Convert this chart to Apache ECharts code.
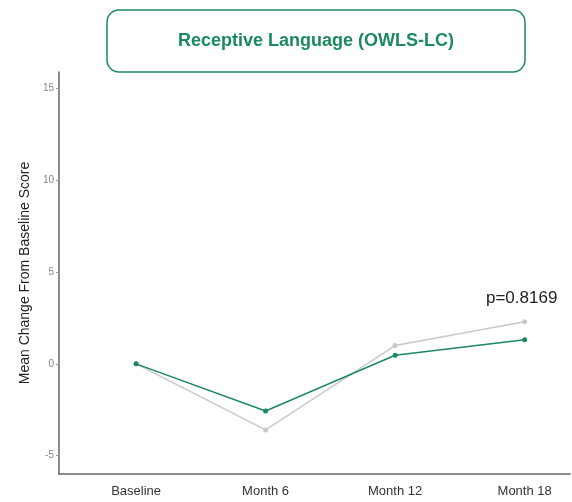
<!DOCTYPE html>
<html>
<head>
<meta charset="utf-8">
<script src="https://cdn.jsdelivr.net/npm/echarts@6/dist/echarts.min.js"></script>
<style>
  html, body { margin: 0; padding: 0; background: #fff; }
  #chart { width: 572px; height: 502px; }
</style>
</head>
<body>
<div id="chart"></div>
<script>
var categories = ["Baseline", "Month 6", "Month 12", "Month 18"];
var greenValues = [0, -2.57, 0.47, 1.31];
var grayValues = [0, -3.6, 1.0, 2.3];
var yTicks = [-5, 0, 5, 10, 15];
var pText = "p=0.8169";

var green = "#1b8a5c";
var gray = "#c9c9c9";
var font = "Liberation Sans, Arial, sans-serif";

function toPoints(values) {
  return values.map(function (v, i) { return [i, v]; });
}

var chart = echarts.init(document.getElementById("chart"));
chart.setOption({
  animation: false,
  textStyle: { fontFamily: font },
  title: {
    text: "Receptive Language (OWLS-LC)",
    left: 107,
    top: 10,
    padding: [22, 71, 22, 71],
    borderColor: green,
    borderWidth: 1.5,
    borderRadius: 12,
    textStyle: { color: green, fontSize: 18, fontWeight: "bold", fontFamily: font }
  },
  grid: { left: 59, right: 2, top: 72, bottom: 28 },
  xAxis: {
    type: "value",
    min: -0.595,
    max: 3.35,
    splitLine: { show: false },
    axisLine: { show: true, onZero: false, lineStyle: { color: "#666", width: 1.5 } },
    axisTick: { show: false },
    axisLabel: {
      customValues: [0, 1, 2, 3],
      formatter: function (v) { return categories[Math.round(v)]; },
      color: "#333",
      fontSize: 13,
      margin: 11
    }
  },
  yAxis: {
    type: "value",
    min: -6,
    max: 15.9,
    name: "Mean Change From Baseline Score",
    nameLocation: "middle",
    nameGap: 27,
    nameTextStyle: { color: "#222", fontSize: 14 },
    splitLine: { show: false },
    axisLine: { show: true, onZero: false, lineStyle: { color: "#666", width: 1.5 } },
    axisTick: { show: true, customValues: yTicks, length: 3, lineStyle: { color: "#999" } },
    axisLabel: { customValues: yTicks, color: "#888", fontSize: 10, margin: 5 }
  },
  series: [
    {
      type: "line",
      data: toPoints(grayValues).map(function (p, i) {
        if (i === grayValues.length - 1) {
          return {
            value: p,
            label: {
              show: true,
              position: "top",
              distance: 12,
              offset: [-3, 0],
              formatter: pText,
              color: "#222",
              fontSize: 17
            }
          };
        }
        return p;
      }),
      symbol: "circle",
      symbolSize: 5,
      lineStyle: { color: gray, width: 1.5 },
      itemStyle: { color: gray },
      z: 2
    },
    {
      type: "line",
      data: toPoints(greenValues),
      symbol: "circle",
      symbolSize: 5,
      lineStyle: { color: green, width: 1.5 },
      itemStyle: { color: green },
      z: 3
    }
  ]
});
</script>
</body>
</html>
